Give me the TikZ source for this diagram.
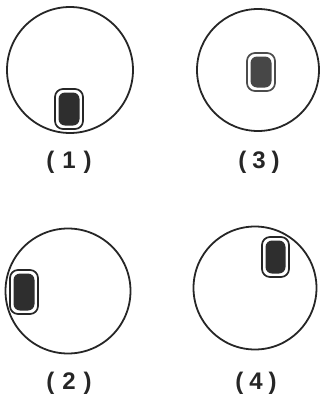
\documentclass[tikz,border=0pt]{standalone}
\usepackage{fontspec}
\setmainfont{Liberation Sans}
\begin{document}
\begin{tikzpicture}[x=1pt,y=-1pt,
  dial/.style={draw=black!85,line width=1.8pt,fill=white},
  capout/.style={draw=black!85,line width=1.7pt,fill=white,rounded corners=8pt},
  capin/.style={fill=black!82,rounded corners=6.5pt},
  lab/.style={font=\fontsize{24}{28}\selectfont\bfseries,text=black!85,inner sep=0pt}]
\useasboundingbox (0,0) rectangle (323,394);
% circle 1
\draw[dial] (70,70) circle (63);
\draw[capout] (55,89) rectangle (83,129);
\fill[capin] (58.5,92.5) rectangle (79.5,125.5);
\node[lab] (l1) at (69,162) {(\hskip8pt1\hskip8pt)};
% circle 3
\draw[dial] (258,70) circle (61);
\draw[capout,draw=black!70] (247,53) rectangle (275,91);
\fill[capin,fill=black!72] (250.5,56.5) rectangle (271.5,87.5);
\node[lab] (l3) at (259,162) {(\hskip6pt3\hskip6pt)};
% circle 2
\draw[dial] (68,291) circle (62.5);
\draw[capout] (10,270) rectangle (38,314);
\fill[capin] (13.5,273.5) rectangle (34.5,310.5);
\node[lab] (l2) at (69,383) {(\hskip8pt2\hskip8pt)};
% circle 4
\draw[dial] (255,288) circle (61.5);
\draw[capout] (262,237) rectangle (289,277);
\fill[capin] (265.5,240.5) rectangle (285.5,273.5);
\node[lab] (l4) at (256,383) {(\hskip6pt4\hskip6pt)};
\end{tikzpicture}
\end{document}
